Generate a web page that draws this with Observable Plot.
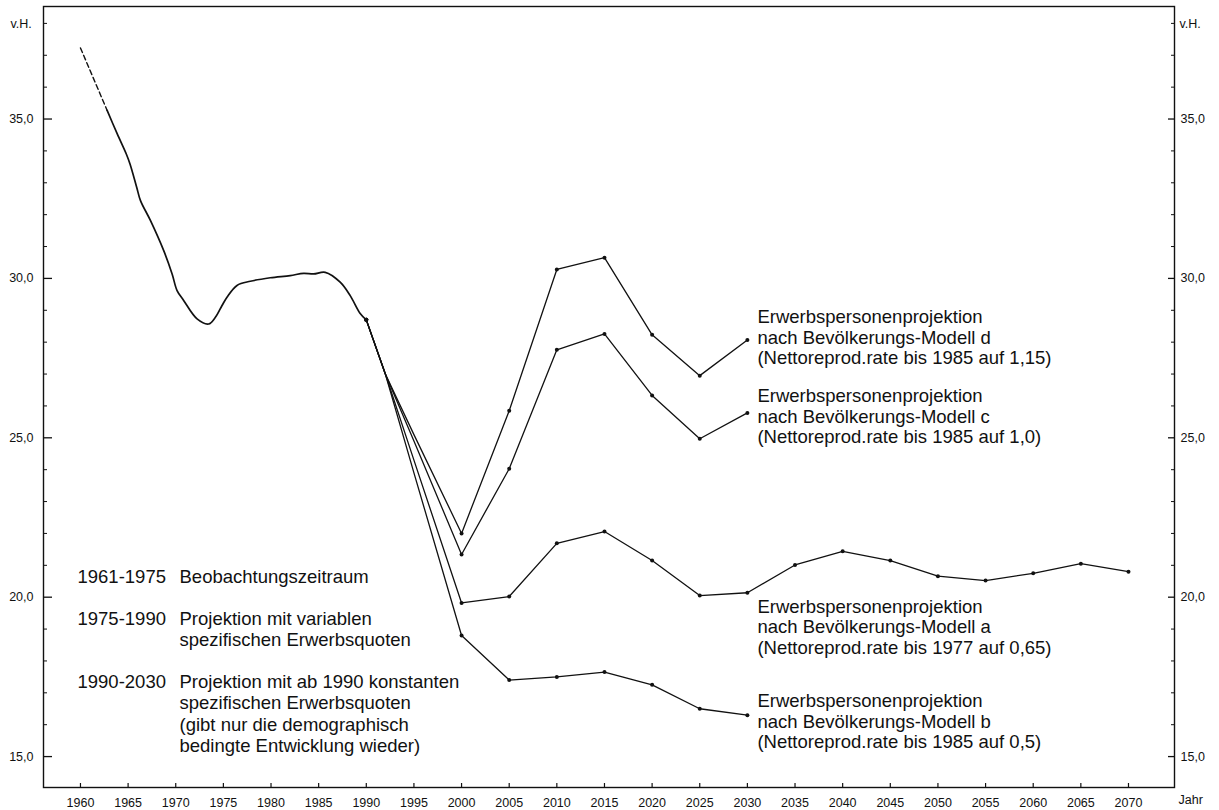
<!DOCTYPE html>
<html><head><meta charset="utf-8">
<script src="https://cdn.jsdelivr.net/npm/d3@7"></script>
<script src="https://cdn.jsdelivr.net/npm/@observablehq/plot@0.6"></script>
<style>
html,body{margin:0;padding:0;background:#fff;}
#chart{width:1219px;height:810px;}
#chart svg{font-family:"Liberation Sans",Arial,Helvetica,sans-serif;}
</style></head><body><div id="chart"></div>
<script>
// ---- data ----
const dashYears = [1960, 1962.8];
const dashValues = [37.23, 35.27];

const histYears = [1962.8, 1963.85, 1964.8, 1965.2, 1965.9, 1966.3, 1967.34, 1968.74, 1969.62, 1970.14, 1970.83, 1972.24, 1973.45, 1974.16, 1974.86, 1975.38, 1976.43, 1977.83, 1979.92, 1982.02, 1983.42, 1984.47, 1985.69, 1987.26, 1988.31, 1989.36, 1990];
const histValues = [35.27, 34.54, 33.91, 33.59, 32.86, 32.44, 31.82, 30.87, 30.14, 29.62, 29.31, 28.73, 28.57, 28.78, 29.15, 29.41, 29.78, 29.91, 30.02, 30.09, 30.16, 30.14, 30.19, 29.88, 29.46, 28.9, 28.7];

const projYears = [1990, 1992, 1995, 2000, 2005, 2010, 2015, 2020, 2025, 2030];
const modelD = [28.7, 27.0, 25.1, 22.0, 25.85, 30.28, 30.65, 28.23, 26.95, 28.07];
const modelC = [28.7, 27.0, 24.9, 21.34, 24.03, 27.76, 28.26, 26.33, 24.97, 25.78];
const modelB = [28.7, 27.0, 23.9, 18.8, 17.4, 17.5, 17.65, 17.25, 16.5, 16.3];
const modelAYears = [1990, 1992, 1995, 2000, 2005, 2010, 2015, 2020, 2025, 2030, 2035, 2040, 2045, 2050, 2055, 2060, 2065, 2070];
const modelA = [28.7, 27.0, 24.3, 19.82, 20.02, 21.69, 22.06, 21.15, 20.05, 20.14, 21.01, 21.44, 21.15, 20.66, 20.52, 20.75, 21.05, 20.8];

const xTickYears = d3.range(1960, 2071, 5);
const yMajorTicks = [15, 20, 25, 30, 35];
const yMinorTicks = [16, 17, 18, 19, 21, 22, 23, 24, 26, 27, 28, 29, 31, 32, 33, 34, 36, 37, 38];

const seriesLabels = [
  {name: "d", text: "Erwerbspersonenprojektion\nnach Bevölkerungs-Modell d\n(Nettoreprod.rate bis 1985 auf 1,15)"},
  {name: "c", text: "Erwerbspersonenprojektion\nnach Bevölkerungs-Modell c\n(Nettoreprod.rate bis 1985 auf 1,0)"},
  {name: "a", text: "Erwerbspersonenprojektion\nnach Bevölkerungs-Modell a\n(Nettoreprod.rate bis 1977 auf 0,65)"},
  {name: "b", text: "Erwerbspersonenprojektion\nnach Bevölkerungs-Modell b\n(Nettoreprod.rate bis 1985 auf 0,5)"}
];
const legendPeriods = ["1961-1975", "1975-1990", "1990-2030"];
const legendTexts = [
  "Beobachtungszeitraum",
  "Projektion mit variablen\nspezifischen Erwerbsquoten",
  "Projektion mit ab 1990 konstanten\nspezifischen Erwerbsquoten\n(gibt nur die demographisch\nbedingte Entwicklung wieder)"
];
const yUnit = "v.H.";
const xUnit = "Jahr";

// ---- build tables ----
const series = [];
[["d", projYears, modelD], ["c", projYears, modelC], ["a", modelAYears, modelA], ["b", projYears, modelB]]
  .forEach(([name, yrs, vals]) => yrs.forEach((yr, i) => series.push({name, year: yr, value: vals[i]})));
const hist = histYears.map((yr, i) => ({year: yr, value: histValues[i]}));
const dash = dashYears.map((yr, i) => ({year: yr, value: dashValues[i]}));
const markers = series.filter(d => d.year >= 2000 || d.year === 1990);
const lastPoints = seriesLabels.map(l => {
  const p = series.find(d => d.name === l.name && d.year === 2030);
  return {...l, year: p.year, value: p.value};
});
const labelDy = {d: -3, c: 3, a: 34, b: 6};
const legendDy = [-220, -177.6, -114.6];

// ---- layout ----
const W = 1219, H = 810;
const mL = 43, mR = 45, mT = 6, mB = 23;
const xDom = [1956.12, 2074.83], yDom = [14.03, 38.53];
const yrPerPx = (xDom[1] - xDom[0]) / (W - mL - mR);
const valPerPx = (yDom[1] - yDom[0]) / (H - mT - mB);
const fmt = v => v.toFixed(1).replace(".", ",");
const font = "Liberation Sans, Arial, sans-serif";
const ink = "#111";

const chart = Plot.plot({
  width: W, height: H,
  marginLeft: mL, marginRight: mR, marginTop: mT, marginBottom: mB,
  x: {domain: xDom},
  y: {domain: yDom},
  style: {fontFamily: font, color: ink, background: "#fff"},
  marks: [
    Plot.frame({stroke: ink, strokeWidth: 1.4}),
    // y ticks (inward)
    Plot.ruleY(yMajorTicks, {x1: xDom[0], x2: xDom[0] + 9 * yrPerPx, stroke: ink, strokeWidth: 1.3}),
    Plot.ruleY(yMinorTicks, {x1: xDom[0], x2: xDom[0] + 4 * yrPerPx, stroke: ink, strokeWidth: 1}),
    Plot.ruleY(yMajorTicks, {x1: xDom[1] - 6 * yrPerPx, x2: xDom[1], stroke: ink, strokeWidth: 1.3}),
    Plot.ruleY(yMinorTicks, {x1: xDom[1] - 3 * yrPerPx, x2: xDom[1], stroke: ink, strokeWidth: 1}),
    // x ticks (inward)
    Plot.ruleX(xTickYears, {x: d => d, y1: yDom[0], y2: yDom[0] + 4 * valPerPx, stroke: ink, strokeWidth: 1.2}),
    Plot.axisY(yMajorTicks, {anchor: "left", tickSize: 0, tickPadding: 10, tickFormat: fmt, fontSize: 12.5, label: null}),
    Plot.axisY(yMajorTicks, {anchor: "right", tickSize: 0, tickPadding: 6, tickFormat: fmt, fontSize: 12.5, label: null}),
    Plot.axisX(xTickYears, {anchor: "bottom", tickSize: 0, tickPadding: 11, tickFormat: d => String(d), fontSize: 12.5, label: null}),
    Plot.text([yUnit], {frameAnchor: "top-left", dx: -33, dy: 13, textAnchor: "start", fontSize: 12.5}),
    Plot.text([yUnit], {frameAnchor: "top-right", dx: 5, dy: 13, textAnchor: "start", fontSize: 12.5}),
    Plot.text([xUnit], {frameAnchor: "bottom-right", dx: 4, dy: 16, textAnchor: "start", fontSize: 12.5}),
    // data lines
    Plot.line(dash, {x: "year", y: "value", stroke: ink, strokeWidth: 1.4, strokeDasharray: "5,3"}),
    Plot.line(hist, {x: "year", y: "value", stroke: ink, strokeWidth: 1.7, curve: "catmull-rom"}),
    Plot.line(series, {x: "year", y: "value", z: "name", stroke: ink, strokeWidth: 1.3}),
    Plot.dot(markers, {x: "year", y: "value", r: 2, fill: ink, stroke: "none"}),
    // series labels
    ...lastPoints.map(p => Plot.text([p], {x: "year", y: "value", text: "text", dx: 10, dy: labelDy[p.name], textAnchor: "start", lineAnchor: "middle", lineHeight: 1.11, fontSize: 18.5, fill: ink})),
    // left legend
    ...legendPeriods.map((p, i) => Plot.text([p], {frameAnchor: "bottom-left", dx: 34, dy: legendDy[i], textAnchor: "start", lineAnchor: "top", lineHeight: 1.15, fontSize: 18.5, fill: ink})),
    ...legendTexts.map((t, i) => Plot.text([t], {frameAnchor: "bottom-left", dx: 136, dy: legendDy[i], textAnchor: "start", lineAnchor: "top", lineHeight: 1.15, fontSize: 18.5, fill: ink}))
  ]
});
document.getElementById("chart").appendChild(chart);
</script>
</body></html>
